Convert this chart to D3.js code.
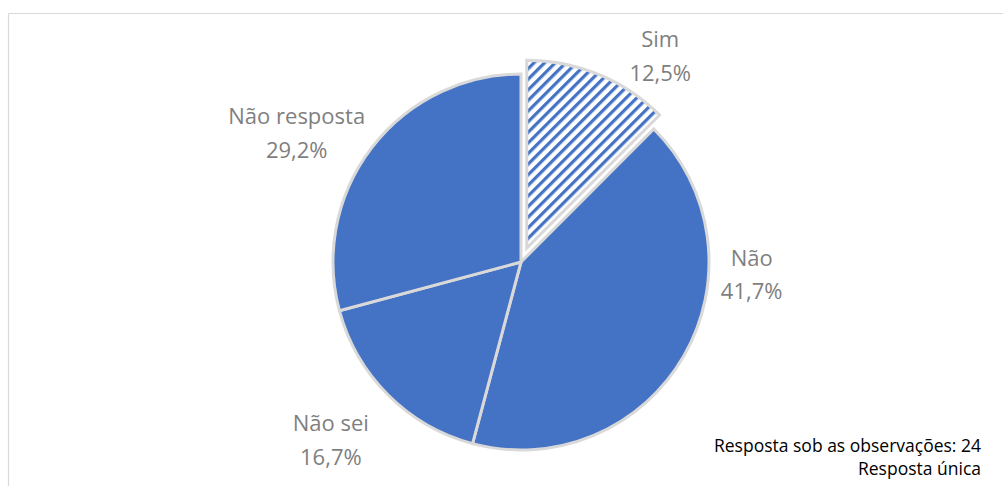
<!DOCTYPE html>
<html>
<head>
<meta charset="utf-8">
<script src="https://cdn.jsdelivr.net/npm/d3@7"></script>
<style>
  html, body { margin: 0; padding: 0; background: #fff; }
  svg { display: block; font-family: "Open Sans", Lato, sans-serif; }
</style>
</head>
<body>
<svg id="chart" width="1003" height="486"></svg>
<script>
// Answers and their share (%), clockwise from 12 o'clock
var categories = ['Sim', 'Não', 'Não sei', 'Não resposta'];
var values = [12.5, 41.7, 16.7, 29.2];
var valueLabels = ['12,5%', '41,7%', '16,7%', '29,2%'];
var notes = ['Resposta sob as observações: 24', 'Resposta única'];

var data = categories.map(function(c, i) {
  return { name: c, value: values[i], label: valueLabels[i] };
});

var width = 1003, height = 486;
var cx = 521, cy = 262, radius = 188;
var explode = 15;          // "Sim" slice pulled out
var blue = '#4472c4', edge = '#d9d9d9', labelGrey = '#7f7f7f';

// Excel "best fit" placement of the data labels (angle in degrees, distance)
var labelPlacement = {
  'Sim':          { angle: 34,  dist: 249 },
  'Não':          { angle: 93,  dist: 231 },
  'Não sei':      { angle: 227, dist: 260 },
  'Não resposta': { angle: 300, dist: 259 }
};

var svg = d3.select('#chart');

// chart area frame (only top and left edges are visible)
svg.append('line').attr('x1', 8.5).attr('y1', 13.5).attr('x2', width).attr('y2', 13.5)
  .attr('stroke', edge).attr('stroke-width', 1.2);
svg.append('line').attr('x1', 8.5).attr('y1', 13.5).attr('x2', 8.5).attr('y2', height)
  .attr('stroke', edge).attr('stroke-width', 1.2);

// hatch pattern: wide upward diagonal
var pattern = svg.append('defs').append('pattern')
  .attr('id', 'hatch')
  .attr('patternUnits', 'userSpaceOnUse')
  .attr('width', 7.5).attr('height', 7.5)
  .attr('patternTransform', 'rotate(45)');
pattern.append('rect').attr('width', 7.5).attr('height', 7.5).attr('fill', '#fff');
pattern.append('rect').attr('width', 3.2).attr('height', 7.5).attr('fill', blue);

var pie = d3.pie().sort(null).value(function(d) { return d.value; });
var arc = d3.arc().innerRadius(0).outerRadius(radius);

var arcs = pie(data);

var g = svg.append('g').attr('transform', 'translate(' + cx + ',' + cy + ')');

g.selectAll('path.slice')
  .data(arcs)
  .enter()
  .append('path')
  .attr('class', 'slice')
  .attr('transform', function(d) {
    if (d.data.name !== 'Sim') return null;
    var a = (d.startAngle + d.endAngle) / 2;
    return 'translate(' + (Math.sin(a) * explode) + ',' + (-Math.cos(a) * explode) + ')';
  })
  .attr('d', arc)
  .attr('fill', function(d) { return d.data.name === 'Sim' ? 'url(#hatch)' : blue; })
  .attr('stroke', edge)
  .attr('stroke-width', 3)
  .attr('stroke-linejoin', 'miter');

// data labels
var labels = g.selectAll('text.label')
  .data(arcs)
  .enter()
  .append('text')
  .attr('class', 'label')
  .attr('text-anchor', 'middle')
  .attr('fill', labelGrey)
  .style('font-size', '22px')
  .attr('transform', function(d) {
    var p = labelPlacement[d.data.name];
    var a = p.angle * Math.PI / 180;
    return 'translate(' + (Math.sin(a) * p.dist) + ',' + (-Math.cos(a) * p.dist) + ')';
  });
labels.append('tspan').attr('x', 0).attr('dy', '-0.38em').text(function(d) { return d.data.name; });
labels.append('tspan').attr('x', 0).attr('dy', '1.53em').text(function(d) { return d.data.label; });

// footnote
svg.append('g')
  .selectAll('text')
  .data(notes)
  .enter()
  .append('text')
  .attr('x', 981)
  .attr('y', function(d, i) { return 452 + i * 23; })
  .attr('text-anchor', 'end')
  .attr('fill', '#000')
  .style('font-size', '17.5px')
  .text(function(d) { return d; });
</script>
</body>
</html>
